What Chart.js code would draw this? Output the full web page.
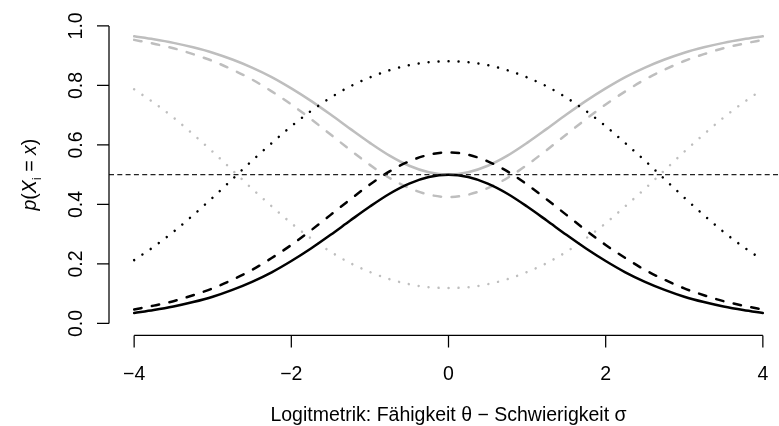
<!DOCTYPE html>
<html>
<head>
<meta charset="utf-8">
<script src="https://cdn.jsdelivr.net/npm/chart.js@4/dist/chart.umd.min.js"></script>
<style>
  html, body { margin: 0; padding: 0; background: #fff; overflow: hidden; width: 779px; height: 426px; }
  canvas { display: block; }
</style>
</head>
<body>
<canvas id="chart" width="790" height="426"></canvas>
<script>
// Ability minus difficulty (logits)
const theta = [-4, -3.75, -3.5, -3.25, -3, -2.75, -2.5, -2.25, -2, -1.75, -1.5, -1.25, -1, -0.75, -0.5, -0.25,
               0, 0.25, 0.5, 0.75, 1, 1.25, 1.5, 1.75, 2, 2.25, 2.5, 2.75, 3, 3.25, 3.5, 3.75, 4];

// Black curves
const blackSolid = [0.035, 0.045, 0.057, 0.072, 0.090, 0.113, 0.140, 0.172, 0.210, 0.252, 0.298, 0.346, 0.393, 0.436, 0.470, 0.492,
                    0.500, 0.492, 0.470, 0.436, 0.393, 0.346, 0.298, 0.252, 0.210, 0.172, 0.140, 0.113, 0.090, 0.072, 0.057, 0.045, 0.035];
const blackDashed = [0.047, 0.060, 0.075, 0.095, 0.118, 0.147, 0.180, 0.220, 0.264, 0.313, 0.365, 0.417, 0.467, 0.511, 0.545, 0.567,
                     0.575, 0.567, 0.545, 0.511, 0.467, 0.417, 0.365, 0.313, 0.264, 0.220, 0.180, 0.147, 0.118, 0.095, 0.075, 0.060, 0.047];
const blackDotted = [0.213, 0.258, 0.308, 0.364, 0.423, 0.485, 0.547, 0.606, 0.663, 0.714, 0.759, 0.797, 0.827, 0.851, 0.868, 0.878,
                     0.881, 0.878, 0.868, 0.851, 0.827, 0.797, 0.759, 0.714, 0.663, 0.606, 0.547, 0.485, 0.423, 0.364, 0.308, 0.258, 0.213];

// Grey curves
const greySolid = [0.965, 0.955, 0.943, 0.928, 0.910, 0.887, 0.860, 0.828, 0.790, 0.748, 0.702, 0.654, 0.607, 0.564, 0.530, 0.508,
                   0.500, 0.508, 0.530, 0.564, 0.607, 0.654, 0.702, 0.748, 0.790, 0.828, 0.860, 0.887, 0.910, 0.928, 0.943, 0.955, 0.965];
const greyDashed = [0.953, 0.940, 0.925, 0.905, 0.882, 0.853, 0.820, 0.780, 0.736, 0.687, 0.635, 0.583, 0.533, 0.489, 0.455, 0.433,
                    0.425, 0.433, 0.455, 0.489, 0.533, 0.583, 0.635, 0.687, 0.736, 0.780, 0.820, 0.853, 0.882, 0.905, 0.925, 0.940, 0.953];
const greyDotted = [0.787, 0.742, 0.692, 0.636, 0.577, 0.515, 0.453, 0.394, 0.337, 0.286, 0.241, 0.203, 0.173, 0.149, 0.132, 0.122,
                    0.119, 0.122, 0.132, 0.149, 0.173, 0.203, 0.241, 0.286, 0.337, 0.394, 0.453, 0.515, 0.577, 0.636, 0.692, 0.742, 0.787];

// Horizontal reference level
const refLevel = 0.5;
const refX = [-4.32, 4.32];

// Axis ticks
const xTicks = [-4, -2, 0, 2, 4];
const xTickLabels = ['\u22124', '\u22122', '0', '2', '4'];
const yTicks = [0, 0.2, 0.4, 0.6, 0.8, 1.0];
const yTickLabels = ['0.0', '0.2', '0.4', '0.6', '0.8', '1.0'];

const xTitle = 'Logitmetrik: F\u00e4higkeit \u03b8 \u2212 Schwierigkeit \u03c3';

const FONT = '"Liberation Sans", Arial, Helvetica, sans-serif';
const FSIZE = 19.5;
const GREY = '#bebebe';

const pts = ys => theta.map((t, i) => ({ x: t, y: ys[i] }));

function curve(ys, color, kind) {
  const ds = {
    data: pts(ys),
    borderColor: color,
    borderWidth: 2.5,
    pointRadius: 0,
    fill: false,
    cubicInterpolationMode: 'monotone',
    borderCapStyle: 'round',
    borderJoinStyle: 'round'
  };
  if (kind === 'dashed') ds.borderDash = [7.5, 10.5];
  if (kind === 'dotted') ds.borderDash = [0.01, 10];
  return ds;
}

// Draws R-style axes, tick labels and titles
const rAxes = {
  id: 'rAxes',
  afterDraw(chart) {
    const ctx = chart.ctx;
    const xs = chart.scales.x, ys = chart.scales.y;
    const area = chart.chartArea;
    const bottom = area.bottom, left = area.left;
    const tick = 12;
    ctx.save();
    ctx.strokeStyle = '#000';
    ctx.fillStyle = '#000';
    ctx.lineWidth = 1.25;
    ctx.lineCap = 'butt';

    // x axis
    const x0 = xs.getPixelForValue(xTicks[0]);
    const x1 = xs.getPixelForValue(xTicks[xTicks.length - 1]);
    ctx.beginPath();
    ctx.moveTo(x0, bottom); ctx.lineTo(x1, bottom);
    xTicks.forEach(v => {
      const px = xs.getPixelForValue(v);
      ctx.moveTo(px, bottom); ctx.lineTo(px, bottom + tick);
    });
    ctx.stroke();
    ctx.font = FSIZE + 'px ' + FONT;
    ctx.textAlign = 'center';
    ctx.textBaseline = 'alphabetic';
    xTicks.forEach((v, i) => {
      ctx.fillText(xTickLabels[i], xs.getPixelForValue(v), 380);
    });

    // y axis
    const y0 = ys.getPixelForValue(yTicks[0]);
    const y1 = ys.getPixelForValue(yTicks[yTicks.length - 1]);
    ctx.beginPath();
    ctx.moveTo(left, y0); ctx.lineTo(left, y1);
    yTicks.forEach(v => {
      const py = ys.getPixelForValue(v);
      ctx.moveTo(left, py); ctx.lineTo(left - tick, py);
    });
    ctx.stroke();
    yTicks.forEach((v, i) => {
      const py = ys.getPixelForValue(v);
      ctx.save();
      ctx.translate(81.5, py);
      ctx.rotate(-Math.PI / 2);
      ctx.textAlign = 'center';
      ctx.fillText(yTickLabels[i], 0, 0);
      ctx.restore();
    });

    // x title
    ctx.textAlign = 'center';
    ctx.fillText(xTitle, (x0 + x1) / 2, 421);

    // y title: p(X_i = x)
    const parts = [
      { t: 'p', f: 'italic ' + FSIZE + 'px ' + FONT, dy: 0 },
      { t: '(', f: FSIZE + 'px ' + FONT, dy: 0 },
      { t: 'X', f: 'italic ' + FSIZE + 'px ' + FONT, dy: 0 },
      { t: 'i', f: (FSIZE * 0.7) + 'px ' + FONT, dy: 4.5 },
      { t: ' = ', f: FSIZE + 'px ' + FONT, dy: 0 },
      { t: 'x', f: 'italic ' + FSIZE + 'px ' + FONT, dy: 0 },
      { t: ')', f: FSIZE + 'px ' + FONT, dy: 0 }
    ];
    let total = 0;
    parts.forEach(p => { ctx.font = p.f; p.w = ctx.measureText(p.t).width; total += p.w; });
    const cy = (area.top + area.bottom) / 2;
    ctx.save();
    ctx.translate(36, cy);
    ctx.rotate(-Math.PI / 2);
    ctx.textAlign = 'left';
    let cx = -total / 2;
    parts.forEach(p => {
      ctx.font = p.f;
      ctx.fillText(p.t, cx, p.dy);
      cx += p.w;
    });
    ctx.restore();
    ctx.restore();
  }
};

new Chart(document.getElementById('chart'), {
  type: 'line',
  data: {
    datasets: [
      {
        data: refX.map(x => ({ x: x, y: refLevel })),
        borderColor: '#222',
        borderWidth: 1.2,
        borderDash: [5, 3.3],
        pointRadius: 0,
        fill: false
      },
      curve(blackSolid, '#000', 'solid'),
      curve(blackDashed, '#000', 'dashed'),
      curve(blackDotted, '#000', 'dotted'),
      curve(greySolid, GREY, 'solid'),
      curve(greyDashed, GREY, 'dashed'),
      curve(greyDotted, GREY, 'dotted')
    ]
  },
  options: {
    responsive: false,
    animation: false,
    events: [],
    layout: { padding: { left: 109, top: 14, right: 2, bottom: 90.6 } },
    scales: {
      x: { type: 'linear', min: -4.32, max: 4.32, display: false },
      y: { type: 'linear', min: -0.04, max: 1.04, display: false }
    },
    plugins: {
      legend: { display: false },
      tooltip: { enabled: false },
      title: { display: false }
    }
  },
  plugins: [rAxes]
});
</script>
</body>
</html>
